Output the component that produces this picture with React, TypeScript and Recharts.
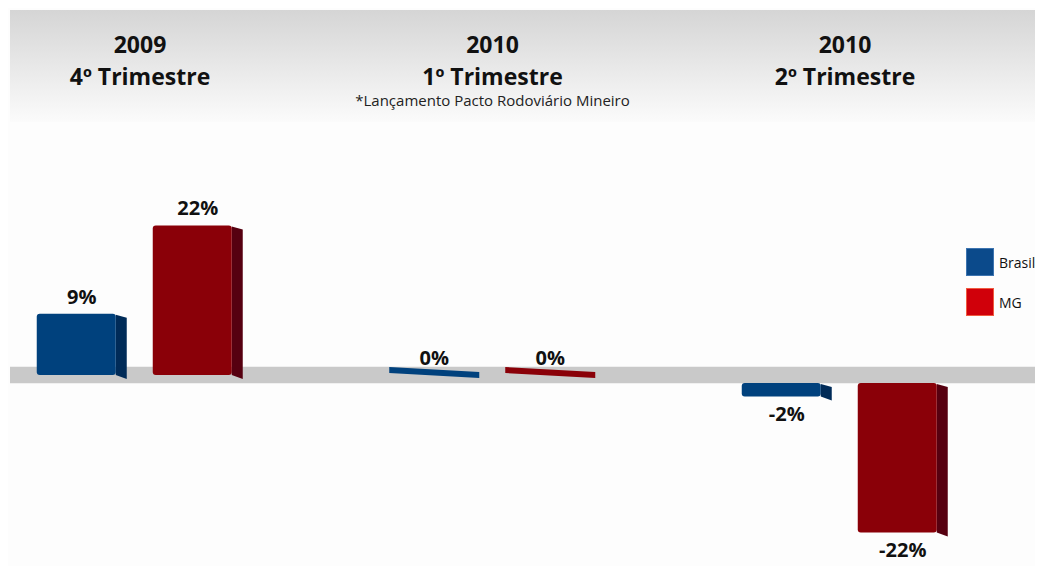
import { BarChart, Bar, XAxis, YAxis, ReferenceArea, LabelList, Legend } from 'recharts';

const years = ['2009', '2010', '2010'];
const quarters = ['4º Trimestre', '1º Trimestre', '2º Trimestre'];
const notes = ['', '*Lançamento Pacto Rodoviário Mineiro', ''];
const brasil = [9, 0, -2];
const mg = [22, 0, -22];

const data = years.map((_, i) => ({ pos: i, brasil: brasil[i], mg: mg[i] }));

const legendItems = [
  { name: 'Brasil', color: '#0b4a8b', border: '#3d74b0' },
  { name: 'MG', color: '#d0000a', border: '#f05a40' },
];

const FONT = "'Open Sans', 'DejaVu Sans', sans-serif";
const DEPTH = 11;
const NEG_SHIFT = 8;

const Bar3D = (props: any) => {
  const { x, y, width, height, fill, side, value } = props;
  const v = Array.isArray(value) ? value[1] : value;
  const w = width;
  if (Math.abs(height) < 1) {
    // flat slab lying on the zero line
    const z = y;
    return (
      <polygon
        points={`${x},${z - 8} ${x + w},${z - 3} ${x + w},${z + 3} ${x},${z - 2}`}
        fill={fill}
      />
    );
  }
  let top = Math.min(y, y + height);
  let bottom = top + Math.abs(height);
  if (v < 0) {
    top += NEG_SHIFT;
    bottom += NEG_SHIFT;
  }
  const fw = w - DEPTH;
  return (
    <g>
      <polygon
        points={`${x + fw},${top + 1} ${x + w},${top + 4} ${x + w},${bottom + 4} ${x + fw},${bottom}`}
        fill={side}
      />
      <rect x={x} y={top} width={fw} height={bottom - top} rx={3} fill={fill} />
    </g>
  );
};

const renderLabel = (props: any) => {
  const { x, y, width, height, value } = props;
  const top = Math.min(y, y + height);
  const bottom = top + Math.abs(height);
  const cx = x + width / 2;
  const ty = value < 0 ? bottom + NEG_SHIFT + 24 : top - 10;
  return (
    <text x={cx} y={ty} textAnchor="middle" fontFamily={FONT} fontWeight={700} fontSize={20} fill="#111">
      {`${value}%`}
    </text>
  );
};

const HeaderTick = (props: any) => {
  const { x, y, payload } = props;
  const i = payload.value;
  const head = { fontFamily: FONT, fontWeight: 700, fontSize: 23, fill: '#111' };
  return (
    <g>
      <text x={x} y={y - 152} textAnchor="middle" {...head}>
        {years[i]}
      </text>
      <text x={x} y={y - 120} textAnchor="middle" {...head}>
        {quarters[i]}
      </text>
      {notes[i] && (
        <text x={x} y={y - 99} textAnchor="middle" fontFamily={FONT} fontSize={15} fill="#222">
          {notes[i]}
        </text>
      )}
    </g>
  );
};

const LegendBox = () => (
  <div style={{ fontFamily: FONT, fontSize: 14, color: '#111', whiteSpace: 'nowrap' }}>
    {legendItems.map((it) => (
      <div key={it.name} style={{ display: 'flex', alignItems: 'center', height: 28, marginBottom: 12 }}>
        <div
          style={{
            width: 28,
            height: 28,
            flexShrink: 0,
            boxSizing: 'border-box',
            background: it.color,
            border: `1px solid ${it.border}`,
          }}
        />
        <span style={{ marginLeft: 5 }}>{it.name}</span>
      </div>
    ))}
  </div>
);

const App = () => {
  return (
    <div style={{ position: 'relative', width: 1043, height: 574, margin: -8, background: '#fdfdfd', overflow: 'hidden' }}>
      <div
        style={{
          position: 'absolute',
          left: 10,
          top: 10,
          width: 1033,
          height: 112,
          background: 'linear-gradient(#d5d5d5, #fbfbfb)',
        }}
      />
      <BarChart
        width={1043}
        height={574}
        data={data}
        margin={{ top: 175, right: 0, bottom: 29, left: 10 }}
        barSize={90}
        barGap={26}
        style={{ position: 'absolute', left: 0, top: 0 }}
      >
        <XAxis
          dataKey="pos"
          type="number"
          orientation="top"
          domain={[-0.3688, 2.5617]}
          allowDataOverflow
          ticks={[0, 1, 2]}
          interval={0}
          height={30}
          axisLine={false}
          tickLine={false}
          tickSize={0}
          tickMargin={0}
          tick={<HeaderTick />}
        />
        <YAxis hide domain={[-25, 25]} allowDataOverflow />
        <ReferenceArea y1={-1.2} y2={1.2} fill="#c9c9c9" fillOpacity={1} stroke="none" ifOverflow="visible" />
        <Legend
          layout="vertical"
          verticalAlign="middle"
          align="center"
          content={<LegendBox />}
          wrapperStyle={{ position: 'absolute', left: 966, top: 248, width: 77 }}
        />
        <Bar
          dataKey="brasil"
          name="Brasil"
          fill="#00417d"
          isAnimationActive={false}
          shape={(p: any) => <Bar3D {...p} side="#002b58" />}
        >
          <LabelList dataKey="brasil" content={renderLabel} />
        </Bar>
        <Bar
          dataKey="mg"
          name="MG"
          fill="#8a0008"
          isAnimationActive={false}
          shape={(p: any) => <Bar3D {...p} side="#560010" />}
        >
          <LabelList dataKey="mg" content={renderLabel} />
        </Bar>
      </BarChart>
    </div>
  );
};

export default App;
